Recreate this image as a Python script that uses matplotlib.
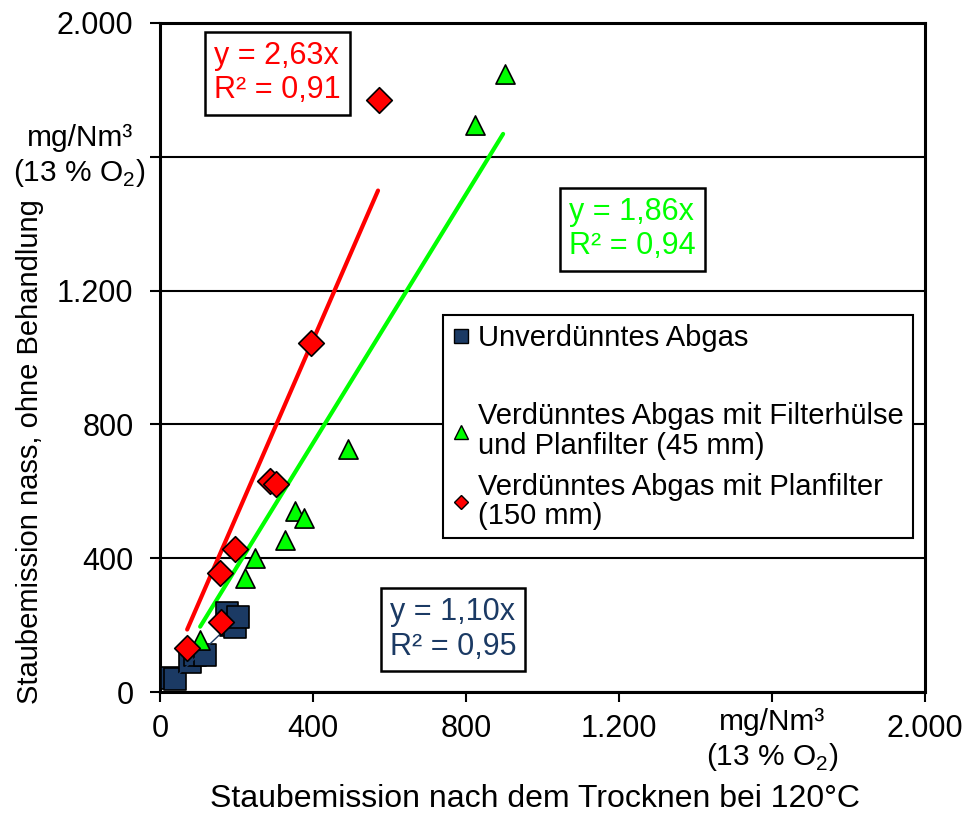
import matplotlib
matplotlib.use("Agg")
import matplotlib.pyplot as plt
from matplotlib.lines import Line2D
import numpy as np

# region Data
# Unverduenntes Abgas (blue squares)
undiluted_x = [31, 40, 78, 92, 118, 175, 185, 196, 204]
undiluted_y = [42, 38, 90, 112, 110, 236, 200, 194, 224]
# Verduennt, Filterhuelse + Planfilter 45 mm (green triangles)
filter45_x = [105, 222, 248, 327, 353, 376, 491, 824, 902]
filter45_y = [155, 341, 401, 454, 541, 520, 726, 1695, 1847]
# Verduennt, Planfilter 150 mm (red diamonds)
filter150_x = [71, 157, 159, 196, 288, 303, 395, 573]
filter150_y = [132, 356, 209, 427, 631, 622, 1043, 1770]

# trendlines through origin: slope and x-range
slope_undiluted, range_undiluted = 1.10, (26, 217)
slope_45, range_45 = 1.86, (105, 897)
slope_150, range_150 = 2.63, (71, 570)

ticks = [0, 400, 800, 1200, 1600, 2000]
tick_labels = ["0", "400", "800", "1.200", "", "2.000"]
unit_text = "mg/Nm³\n(13 % O$_\\mathregular{2}$)"
# endregion

navy = "#1B3A64"
green = "#00FF00"
red = "#FF0000"

plt.rcParams["font.family"] = ["Liberation Sans", "DejaVu Sans"]
plt.rcParams["mathtext.fontset"] = "custom"
plt.rcParams["mathtext.rm"] = "Liberation Sans"

fig = plt.figure(figsize=(9.71, 8.19), dpi=100)
ax = fig.add_axes([160 / 971, 1 - 692 / 819, 765 / 971, 669 / 819])

ax.set_xlim(0, 2000)
ax.set_ylim(0, 2000)
ax.set_xticks(ticks)
ax.set_xticklabels(tick_labels)
ax.set_yticks(ticks)
ax.set_yticklabels(tick_labels)
ax.tick_params(axis="both", direction="out", length=7, width=1.5, labelsize=22, colors="black")
ax.tick_params(axis="x", pad=9)
ax.tick_params(axis="y", pad=12)
for sp in ax.spines.values():
    sp.set_linewidth(2.2)
ax.yaxis.grid(True, color="black", linewidth=1.5)
ax.set_axisbelow(True)

# trendlines
for slope, (x0, x1), col, lw, z in [(slope_150, range_150, red, 3, 2),
                                     (slope_45, range_45, green, 3, 2),
                                     (slope_undiluted, range_undiluted, navy, 1, 4)]:
    xs = np.array([x0, x1])
    ax.plot(xs, slope * xs, color=col, linewidth=lw, zorder=z, solid_capstyle="round")

ax.scatter(undiluted_x, undiluted_y, marker="s", s=240, color=navy, edgecolor="black", linewidth=1.2, zorder=3)
ax.scatter(filter45_x, filter45_y, marker="^", s=190, color=green, edgecolor="black", linewidth=1.2, zorder=5)
ax.scatter(filter150_x, filter150_y, marker="D", s=170, color=red, edgecolor="black", linewidth=1.2, zorder=6)

# regression annotations
box = dict(boxstyle="square,pad=0.3", facecolor="white", edgecolor="black", linewidth=1.8)
ax.text(0.154, 0.925, "y = 2,63x\nR² = 0,91", color=red, fontsize=22, transform=ax.transAxes,
        ha="center", va="center", multialignment="left", bbox=box, zorder=10)
ax.text(0.618, 0.692, "y = 1,86x\nR² = 0,94", color=green, fontsize=22, transform=ax.transAxes,
        ha="center", va="center", multialignment="left", bbox=box, zorder=10)
ax.text(0.383, 0.093, "y = 1,10x\nR² = 0,95", color=navy, fontsize=22, transform=ax.transAxes,
        ha="center", va="center", multialignment="left", bbox=box, zorder=10)

# unit labels in place of the 1600 ticks
ax.text(-0.105, 1600, unit_text, transform=ax.get_yaxis_transform(), fontsize=21.5,
        ha="center", va="center", clip_on=False)
ax.text(1600, -0.072, unit_text, transform=ax.get_xaxis_transform(), fontsize=21.5,
        ha="center", va="center", clip_on=False)

fig.text(535 / 971, 1 - 799 / 819, "Staubemission nach dem Trocknen bei 120°C", fontsize=23,
         ha="center", va="center")
fig.text(30 / 971, 1 - 452 / 819, "Staubemission nass, ohne Behandlung", fontsize=21,
         ha="center", va="center", rotation=90)

# legend with a blank gap after the first entry
handles = [
    Line2D([], [], linestyle="none", marker="s", markersize=10, markerfacecolor=navy, markeredgecolor="black"),
    Line2D([], [], linestyle="none"),
    Line2D([], [], linestyle="none", marker="^", markersize=10, markerfacecolor=green, markeredgecolor="black"),
    Line2D([], [], linestyle="none", marker="D", markersize=7, markerfacecolor=red, markeredgecolor="black"),
]
labels = ["Unverdünntes Abgas", " ",
          "Verdünntes Abgas mit Filterhülse\nund Planfilter (45 mm)",
          "Verdünntes Abgas mit Planfilter\n(150 mm)"]
leg = fig.legend(handles, labels, loc="upper left", bbox_to_anchor=(443 / 971, 1 - 315 / 819),
                 bbox_transform=fig.transFigure, fontsize=21, frameon=True, fancybox=False,
                 edgecolor="black", framealpha=1, borderpad=0.3, handlelength=0.6,
                 handletextpad=0.3, labelspacing=0.45, borderaxespad=0)
leg.get_frame().set_linewidth(1.5)
for t in leg.get_texts():
    t.set_linespacing(1.05)
leg.get_texts()[1].set_fontsize(14)

fig.savefig("out.png", dpi=100)
